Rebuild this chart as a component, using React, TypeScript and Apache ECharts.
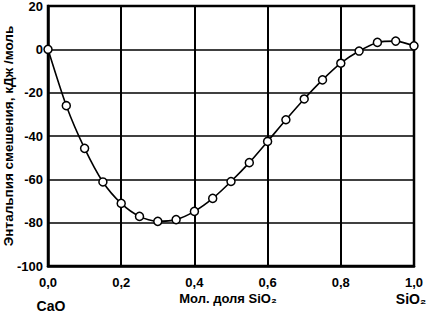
import React, { useEffect, useRef } from "react";
import * as echarts from "echarts";

const xFractions = [0, 0.05, 0.1, 0.15, 0.2, 0.25, 0.3, 0.35, 0.4, 0.45, 0.5, 0.55, 0.6, 0.65, 0.7, 0.75, 0.8, 0.85, 0.9, 0.95, 1.0];
const enthalpy = [0, -26, -45.7, -61.2, -71.1, -77.1, -79.4, -78.6, -74.8, -68.8, -61, -52.3, -42.5, -32.5, -22.9, -14.1, -6.4, -0.8, 3.2, 3.8, 1.6];
const yAxisTitle = "Энтальпия смешения, кДж /моль";
const xAxisTitle = "Мол. доля SiO₂";
const leftComponent = "CaO";
const rightComponent = "SiO₂";

const FONT = "'Liberation Sans', Arial, sans-serif";

export default function App() {
  const ref = useRef<HTMLDivElement>(null);
  useEffect(() => {
    if (!ref.current) return;
    const chart = echarts.init(ref.current, null, { renderer: "svg" });
    const data = xFractions.map((x, i) => [x, enthalpy[i]]);
    chart.setOption({
      animation: false,
      backgroundColor: "#fff",
      grid: { left: 48, right: 14, top: 6, bottom: 47, containLabel: false, outerBoundsMode: "none", show: false },
      xAxis: {
        type: "value",
        min: 0,
        max: 1,
        interval: 0.2,
        axisLine: { show: true, onZero: false, lineStyle: { color: "#000", width: 2.5 } },
        axisTick: { show: false },
        splitLine: { show: true, lineStyle: { color: "#000", width: 2 } },
        axisLabel: {
          color: "#000",
          fontFamily: FONT,
          fontWeight: "bold",
          fontSize: 13,
          margin: 10,
          formatter: (v: number) => v.toFixed(1).replace(".", ","),
        },
      },
      yAxis: {
        type: "value",
        min: -100,
        max: 20,
        interval: 20,
        axisLine: { show: true, onZero: false, lineStyle: { color: "#000", width: 2.5 } },
        axisTick: { show: false },
        splitLine: { show: true, lineStyle: { color: "#000", width: 1.6 } },
        axisLabel: {
          color: "#000",
          fontFamily: FONT,
          fontWeight: "bold",
          fontSize: 13,
          margin: 5,
        },
      },
      graphic: [
        {
          type: "rect",
          shape: { x: 48, y: 6, width: 366, height: 260 },
          style: { fill: "none", stroke: "#000", lineWidth: 2.5 },
          z: 10,
          silent: true,
        },
        {
          type: "text",
          x: 8,
          y: 136,
          rotation: Math.PI / 2,
          style: { text: yAxisTitle, fill: "#000", font: `bold 13.5px ${FONT}`, align: "center", verticalAlign: "middle" },
        },
        {
          type: "text",
          x: 228,
          y: 298,
          style: { text: xAxisTitle, fill: "#000", font: `bold 13px ${FONT}`, align: "center", verticalAlign: "middle" },
        },
        {
          type: "text",
          x: 51,
          y: 306,
          style: { text: leftComponent, fill: "#000", font: `bold 14px ${FONT}`, align: "center", verticalAlign: "middle" },
        },
        {
          type: "text",
          x: 411,
          y: 299,
          style: { text: rightComponent, fill: "#000", font: `bold 14px ${FONT}`, align: "center", verticalAlign: "middle" },
        },
      ],
      series: [
        {
          type: "line",
          data,
          smooth: 0.25,
          symbol: "circle",
          symbolSize: 8,
          itemStyle: { color: "#fff", borderColor: "#000", borderWidth: 1.5 },
          lineStyle: { color: "#000", width: 1.6 },
          z: 20,
        },
      ],
    });
    return () => chart.dispose();
  }, []);
  return <div ref={ref} style={{ width: 428, height: 313, position: "absolute", left: 0, top: 0 }} />;
}
